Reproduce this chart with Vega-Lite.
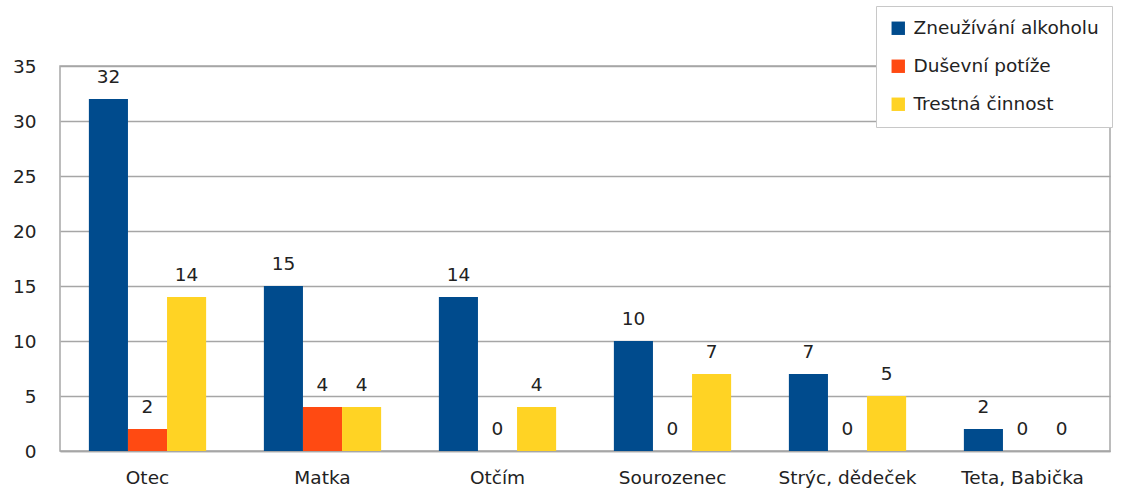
{
  "$schema": "https://vega.github.io/schema/vega-lite/v6.json",
  "autosize": {"type": "none"},
  "width": 1050,
  "height": 385,
  "padding": {"left": 60, "top": 66, "right": 18, "bottom": 38},
  "background": "white",
  "config": {
    "font": "DejaVu Sans",
    "view": {"stroke": "#A6A6A6", "strokeWidth": 1.5}
  },
  "data": {
    "values": [
      {"kategorie": "Otec", "serie": "Zneužívání alkoholu", "hodnota": 32},
      {"kategorie": "Otec", "serie": "Duševní potíže", "hodnota": 2},
      {"kategorie": "Otec", "serie": "Trestná činnost", "hodnota": 14},
      {"kategorie": "Matka", "serie": "Zneužívání alkoholu", "hodnota": 15},
      {"kategorie": "Matka", "serie": "Duševní potíže", "hodnota": 4},
      {"kategorie": "Matka", "serie": "Trestná činnost", "hodnota": 4},
      {"kategorie": "Otčím", "serie": "Zneužívání alkoholu", "hodnota": 14},
      {"kategorie": "Otčím", "serie": "Duševní potíže", "hodnota": 0},
      {"kategorie": "Otčím", "serie": "Trestná činnost", "hodnota": 4},
      {"kategorie": "Sourozenec", "serie": "Zneužívání alkoholu", "hodnota": 10},
      {"kategorie": "Sourozenec", "serie": "Duševní potíže", "hodnota": 0},
      {"kategorie": "Sourozenec", "serie": "Trestná činnost", "hodnota": 7},
      {"kategorie": "Strýc, dědeček", "serie": "Zneužívání alkoholu", "hodnota": 7},
      {"kategorie": "Strýc, dědeček", "serie": "Duševní potíže", "hodnota": 0},
      {"kategorie": "Strýc, dědeček", "serie": "Trestná činnost", "hodnota": 5},
      {"kategorie": "Teta, Babička", "serie": "Zneužívání alkoholu", "hodnota": 2},
      {"kategorie": "Teta, Babička", "serie": "Duševní potíže", "hodnota": 0},
      {"kategorie": "Teta, Babička", "serie": "Trestná činnost", "hodnota": 0}
    ]
  },
  "encoding": {
    "x": {
      "field": "kategorie",
      "type": "nominal",
      "sort": null,
      "scale": {"paddingInner": 0.33, "paddingOuter": 0.165},
      "axis": {
        "title": null,
        "labelAngle": 0,
        "labelFontSize": 18.5,
        "labelColor": "#222222",
        "labelPadding": 17,
        "ticks": false,
        "domainColor": "#A6A6A6",
        "domainWidth": 1.5
      }
    },
    "xOffset": {
      "field": "serie",
      "type": "nominal",
      "sort": ["Zneužívání alkoholu", "Duševní potíže", "Trestná činnost"],
      "scale": {"paddingInner": 0, "paddingOuter": 0}
    },
    "y": {
      "field": "hodnota",
      "type": "quantitative",
      "scale": {"domain": [0, 35], "nice": false},
      "axis": {
        "title": null,
        "values": [0, 5, 10, 15, 20, 25, 30, 35],
        "labelFontSize": 18.5,
        "labelColor": "#222222",
        "labelPadding": 24,
        "ticks": false,
        "domain": false,
        "gridColor": "#A6A6A6",
        "gridWidth": 1.5
      }
    }
  },
  "layer": [
    {
      "mark": {"type": "bar"},
      "encoding": {
        "color": {
          "field": "serie",
          "type": "nominal",
          "sort": ["Zneužívání alkoholu", "Duševní potíže", "Trestná činnost"],
          "scale": {
            "domain": ["Zneužívání alkoholu", "Duševní potíže", "Trestná činnost"],
            "range": ["#004B8D", "#FF4A12", "#FFD324"]
          },
          "legend": {
            "title": null,
            "orient": "none",
            "legendX": 816,
            "legendY": -60,
            "symbolType": "square",
            "symbolSize": 180,
            "symbolStrokeWidth": 0,
            "labelFontSize": 18.5,
            "labelLimit": 400,
            "labelColor": "#222222",
            "labelOffset": 6,
            "rowPadding": 19,
            "padding": 13,
            "fillColor": "white",
            "strokeColor": "#C8C8C8"
          }
        }
      }
    },
    {
      "mark": {"type": "text", "dy": -22, "fontSize": 18.5, "color": "#222222"},
      "encoding": {
        "text": {"field": "hodnota", "type": "quantitative"}
      }
    }
  ]
}
